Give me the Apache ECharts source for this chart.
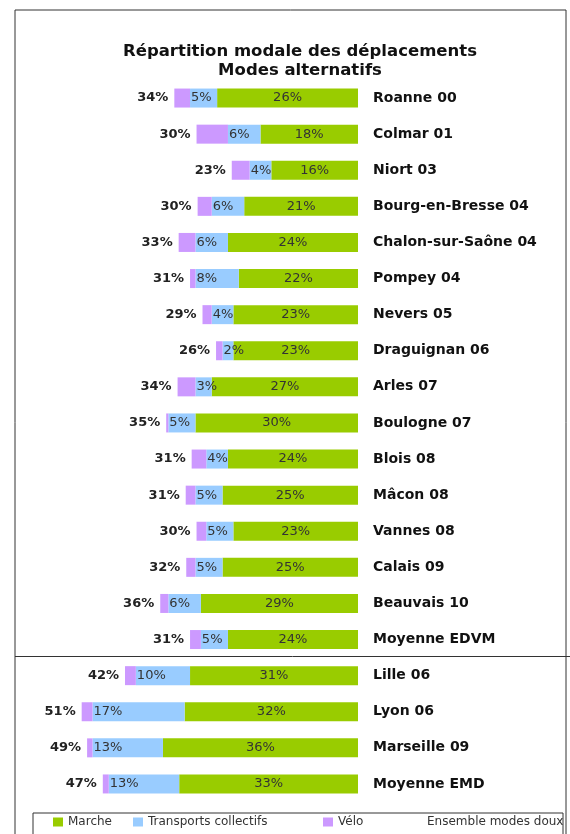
<!DOCTYPE html>
<html>
<head>
<meta charset="utf-8">
<script src="https://cdn.jsdelivr.net/npm/echarts@6/dist/echarts.min.js"></script>
<style>
  html, body { margin: 0; padding: 0; background: #fff; }
  #chart { width: 570px; height: 834px; }
</style>
</head>
<body>
<div id="chart"></div>
<script>
// villes / enquetes
const categories = ['Roanne 00', 'Colmar 01', 'Niort 03', 'Bourg-en-Bresse 04', 'Chalon-sur-Saône 04',
  'Pompey 04', 'Nevers 05', 'Draguignan 06', 'Arles 07', 'Boulogne 07', 'Blois 08', 'Mâcon 08',
  'Vannes 08', 'Calais 09', 'Beauvais 10', 'Moyenne EDVM', 'Lille 06', 'Lyon 06', 'Marseille 09', 'Moyenne EMD']
// parts modales (%)
const marche = [26, 18, 16, 21, 24, 22, 23, 23, 27, 30, 24, 25, 23, 25, 29, 24, 31, 32, 36, 33]
const transports = [5, 6, 4, 6, 6, 8, 4, 2, 3, 5, 4, 5, 5, 5, 6, 5, 10, 17, 13, 13]
const velo = [2.9, 5.8, 3.3, 2.6, 3.1, 1, 1.7, 1.2, 3.3, 0.4, 2.7, 1.8, 1.8, 1.7, 1.5, 2, 2, 2, 1, 1.1]
const ensemble = [34, 30, 23, 30, 33, 31, 29, 26, 34, 35, 31, 31, 30, 32, 36, 31, 42, 51, 49, 47]

const font = 'DejaVu Sans'

const chart = echarts.init(document.getElementById('chart'))

function legendAt(name, left) {
  return {
    data: [name],
    left: left,
    top: 816,
    padding: 0,
    itemWidth: 10,
    itemHeight: 9,
    icon: 'rect',
    selectedMode: false,
    textStyle: { fontFamily: font, fontSize: 12, color: '#333' }
  }
}

const option = {
  animation: false,
  grid: { left: 60, right: 212, top: 80, bottom: 32 },
  xAxis: {
    type: 'value',
    inverse: true,
    min: 0,
    max: 55,
    show: false
  },
  yAxis: {
    type: 'category',
    data: categories,
    inverse: true,
    position: 'right',
    axisLine: { show: false },
    axisTick: { show: false },
    axisLabel: {
      margin: 15,
      fontFamily: font,
      fontSize: 14,
      fontWeight: 'bold',
      color: '#111'
    }
  },
  legend: [
    legendAt('Marche', 53),
    legendAt('Transports collectifs', 133),
    legendAt('Vélo', 323),
    legendAt('Ensemble modes doux', 412)
  ],
  graphic: [
    { type: 'rect', shape: { x: 15, y: 10, width: 551, height: 840 },
      style: { fill: null, stroke: '#333', lineWidth: 1 } },
    { type: 'line', shape: { x1: 15, y1: 656.5, x2: 570, y2: 656.5 },
      style: { stroke: '#333', lineWidth: 1 } },
    { type: 'rect', shape: { x: 33, y: 813, width: 530, height: 40 },
      style: { fill: null, stroke: '#333', lineWidth: 1 } },
    { type: 'text', x: 300, y: 42,
      style: {
        text: 'Répartition modale des déplacements\nModes alternatifs',
        textAlign: 'center',
        fontFamily: font,
        fontSize: 16.5,
        fontWeight: 'bold',
        lineHeight: 19,
        fill: '#111'
      } }
  ],
  series: [
    {
      name: 'Marche',
      type: 'bar',
      stack: 'modes',
      barWidth: 19,
      data: marche,
      itemStyle: { color: '#99cc00' },
      label: {
        show: true,
        position: 'inside',
        formatter: '{c}%',
        fontFamily: font,
        fontSize: 13,
        color: '#333'
      }
    },
    {
      name: 'Transports collectifs',
      type: 'bar',
      stack: 'modes',
      barWidth: 19,
      data: transports,
      itemStyle: { color: '#99ccff' },
      label: {
        show: true,
        position: 'insideLeft',
        distance: 1,
        formatter: '{c}%',
        fontFamily: font,
        fontSize: 13,
        color: '#333'
      }
    },
    {
      name: 'Vélo',
      type: 'bar',
      stack: 'modes',
      barWidth: 19,
      data: velo,
      itemStyle: { color: '#cc99ff' },
      label: {
        show: true,
        position: 'left',
        distance: 6,
        formatter: p => ensemble[p.dataIndex] + '%',
        fontFamily: font,
        fontSize: 13,
        fontWeight: 'bold',
        color: '#222'
      }
    },
    {
      // uniquement pour la legende
      name: 'Ensemble modes doux',
      type: 'line',
      data: [],
      itemStyle: { color: 'rgba(0,0,0,0)' },
      lineStyle: { color: 'rgba(0,0,0,0)' }
    }
  ]
}

chart.setOption(option)
</script>
</body>
</html>
